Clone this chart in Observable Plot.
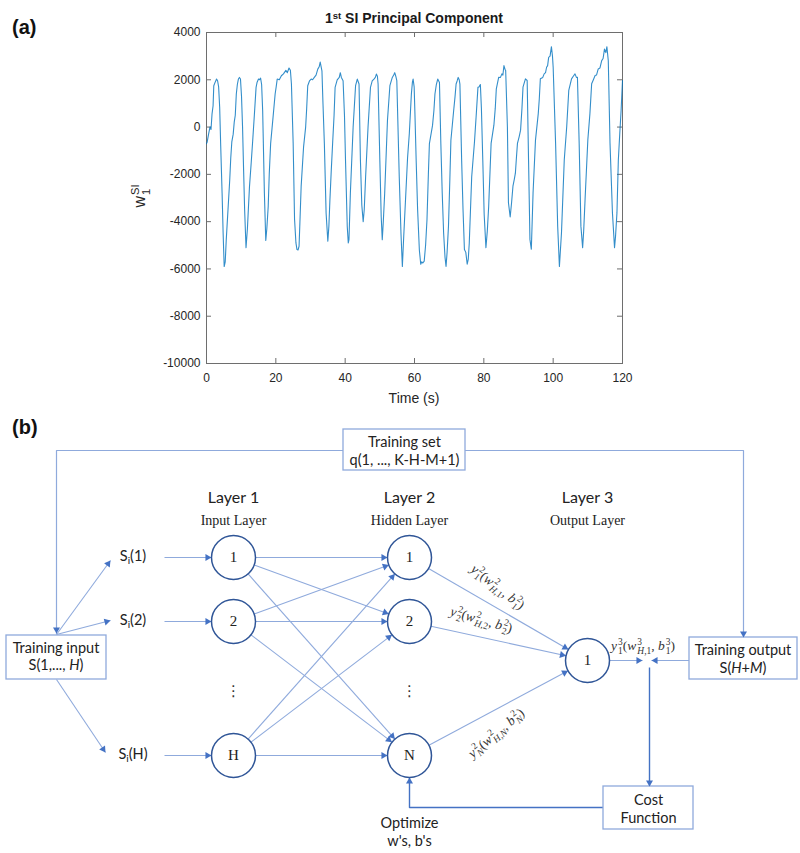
<!DOCTYPE html>
<html><head><meta charset="utf-8">
<script src="https://cdn.jsdelivr.net/npm/d3@7"></script>
<script src="https://cdn.jsdelivr.net/npm/@observablehq/plot@0.6"></script>
<style>
html,body{margin:0;padding:0;background:#fff;}
#fig{position:relative;width:800px;height:853px;overflow:hidden;background:#fff;}
#fig svg{position:absolute;left:0;}
.lbl{position:absolute;white-space:nowrap;line-height:1;color:#222;}
.ss{display:inline-flex;flex-direction:column;vertical-align:middle;font-size:0.7em;line-height:1.0;text-align:left;margin-left:1px;}
.math{font-family:"Liberation Serif","DejaVu Serif",serif;font-size:13.5px;color:#333;}
.sans{font-family:Lato,"Open Sans",sans-serif;font-size:14.5px;color:#222;}
.sub{font-size:0.7em;vertical-align:-0.3em;}
</style></head>
<body><div id="fig"></div>
<script>
// ---------------- DATA ----------------
// (a) 1st SI principal component
const time = [
  0,0.2,0.6,1.0,1.3,1.6,1.9,2.1,2.5,2.9,3.2,3.5,3.8,
  4.1,4.5,4.8,5.1,5.4,5.7,6.2,6.7,7.0,7.3,7.7,8.0,8.3,8.6,8.9,9.2,9.5,9.8,10.1,
  10.4,10.7,11.0,11.4,11.8,12.1,12.4,12.9,13.3,13.8,14.3,14.6,15.0,15.3,15.6,15.9,
  16.2,16.7,17.1,17.4,17.8,18.1,18.5,19.2,19.8,20.1,20.4,21.0,21.6,22.2,22.9,23.3,23.8,24.2,24.5,
  25.0,25.4,25.8,26.1,26.4,26.7,27.0,27.3,28.0,28.6,28.9,29.2,29.7,30.2,30.6,31.1,31.6,32.1,32.5,32.8,33.0,33.3,33.6,
  34.0,34.5,35.0,35.3,35.6,36.0,36.4,36.8,37.1,37.7,38.3,38.6,38.9,39.4,39.8,
  40.1,40.6,40.9,41.1,41.5,42.3,43.0,43.5,44.0,
  44.4,44.8,45.2,45.5,45.9,46.6,47.3,47.8,48.3,48.7,49.0,49.3,49.5,
  50.0,50.4,50.7,51.0,51.4,52.2,52.9,53.3,53.6,54.0,54.3,54.6,54.9,
  55.6,56.1,56.5,56.9,57.5,58.0,58.5,59.1,59.4,59.6,59.9,60.1,
  60.5,60.9,61.4,61.8,62.1,62.4,62.8,63.2,63.6,64.0,64.3,65.2,65.6,65.9,66.3,66.7,67.2,
  67.6,68.0,68.4,68.8,69.1,69.4,69.8,70.2,70.5,71.3,71.7,72.0,72.3,72.6,72.9,73.1,
  73.6,74.0,74.4,74.8,75.2,75.5,75.8,76.5,77.3,77.8,78.3,78.6,79.0,79.3,
  79.7,80.1,80.6,81.0,81.4,82.1,82.9,83.3,83.6,84.0,84.3,84.8,85.2,85.5,85.8,86.1,86.3,
  86.8,87.1,87.6,88.0,88.4,88.8,89.1,89.4,89.7,90.2,90.6,91.0,91.3,92.0,92.5,
  92.9,93.3,93.7,94.2,94.9,95.7,96.0,96.3,97.0,97.4,97.8,98.1,98.4,98.7,99.1,99.5,99.8,100.0,
  100.7,101.3,101.8,102.4,103.2,103.9,104.5,105.3,105.8,106.3,106.7,107.0,
  107.5,108.0,108.5,108.8,109.2,110.0,110.6,111.1,111.6,112.1,112.5,113.0,113.5,114.0,114.4,114.8,115.2,115.5,115.9,
  116.4,117.1,117.7,118.0,118.4,118.8,119.2,119.6,120.0
];
const w1 = [
  -700,-630,-300,0,-100,560,900,1750,1900,2030,1960,1700,840,
  -800,-2800,-4500,-5900,-5700,-4760,-3500,-2240,-1300,-630,-300,210,500,1400,1800,2030,2100,2030,1300,
  0,-1800,-3500,-5100,-4300,-3400,-2520,-1500,-630,500,1680,1900,2030,2000,2070,1800,
  700,-2800,-4800,-4300,-3360,-2000,-700,420,1400,1700,2030,2000,2170,2250,2400,2300,2500,2400,1820,
  -700,-3900,-4900,-5180,-5200,-5040,-3800,-2520,-840,0,800,1750,1950,2030,2000,2100,2200,2450,2550,2750,2600,2380,1000,
  -700,-3640,-4830,-4200,-3080,-1800,-630,500,1680,2000,2100,2300,2100,1960,500,
  -1400,-4200,-4900,-4760,-2800,0,1750,2030,1820,
  -1400,-3300,-4000,-3500,-2100,0,1680,1950,2030,2100,2240,2150,1820,
  -1400,-3800,-4760,-4000,-2800,280,1750,1950,2100,2200,2300,2150,1960,
  -2100,-4500,-5900,-4600,-2800,-1300,-280,1400,1900,2030,1700,700,
  -1500,-3500,-5200,-5800,-5700,-5750,-5670,-5000,-3920,-2000,-700,70,700,1400,1800,2030,1890,
  -700,-2800,-4480,-5500,-5900,-5300,-4200,-2200,-560,700,1300,1820,1950,2100,2000,1820,
  -1400,-3500,-5180,-5300,-5800,-5600,-4900,-2100,-630,500,1680,1700,1800,800,
  -1400,-3700,-5100,-4400,-3350,-690,80,800,1620,1900,2110,2100,2250,2200,2600,2450,2390,
  0,-3200,-3800,-3200,-2500,-2200,-1950,-1300,-690,-400,-130,800,1690,2040,1970,
  -1390,-4750,-5170,-2790,-550,570,1200,2040,2100,2250,2300,2530,2600,2950,3000,3400,3000,2530,
  -690,-4190,-5900,-4470,-1390,0,1550,2040,2150,2250,2100,2110,
  -690,-4190,-5100,-4400,-3070,-550,570,1830,2000,2180,2200,2460,2500,2810,2900,3300,3150,3400,2810,
  -690,-3630,-5100,-4600,-3630,-1390,-300,710,1970
];
const xTicks = [0, 20, 40, 60, 80, 100, 120];
const yTicks = [-10000, -8000, -6000, -4000, -2000, 0, 2000, 4000];

// (b) network diagram content
const inputNodes = ["1", "2", "H"];
const hiddenNodes = ["1", "2", "N"];
const outputNodes = ["1"];
const inputSignals = ["1", "2", "H"];            // S_i(...)
const layerNames = ["Layer 1", "Layer 2", "Layer 3"];
const layerRoles = ["Input Layer", "Hidden Layer", "Output Layer"];
const hiddenIdx = ["1", "2", "N"];                // y_k^2(w_{H,k}^2, b_k^2)
const boxTexts = {
  set: "Training set\nq(1, ..., K-H-M+1)",
  cost: "Cost\nFunction",
  opt: "Optimize\nw's, b's"
};

if (time.length !== w1.length) throw new Error("length mismatch " + time.length + " " + w1.length);

// ---------------- LAYOUT ----------------
const fig = document.getElementById("fig");
const B_TOP = 410;
const LY = {
  col: {tin: 56, sig: 133, l1: 233, l2: 409, l3: 587, tout: 743},
  rows: [557, 621, 755], dotsY: 691, outY: 660, r: 22,
  headY: 497, roleY: 520,
  boxSet: {x1: 343, x2: 465, y1: 429, y2: 470},
  boxIn: {x1: 6, x2: 106, y1: 635, y2: 679},
  boxOut: {x1: 689, x2: 797, y1: 637, y2: 679},
  boxCost: {x1: 603, x2: 693, y1: 786, y2: 829},
  topLineY: 450, fanY: 633, junctionX: 649, costLineY: 807
};
const LIGHT = "#8FAADC", DARK = "#4472C4", NODE = "#2F5597";

// ---------------- (a) line chart ----------------
const series = time.map((t, i) => ({t, v: w1[i]}));
const axisColor = "#6e6e6e";
const plotA = Plot.plot({
  width: 800, height: 410,
  marginLeft: 206, marginRight: 178, marginTop: 32, marginBottom: 47,
  x: {domain: [0, 120]},
  y: {domain: [-10000, 4000]},
  style: {fontFamily: "'Liberation Sans', Arial, sans-serif", fontSize: "12px", color: "#262626", background: "transparent"},
  marks: [
    Plot.tickX(xTicks, {x: d => d, insetTop: 326, stroke: axisColor}),
    Plot.tickX(xTicks, {x: d => d, insetBottom: 326, stroke: axisColor}),
    Plot.tickY(yTicks, {y: d => d, insetRight: 411, stroke: axisColor}),
    Plot.tickY(yTicks, {y: d => d, insetLeft: 411, stroke: axisColor}),
    Plot.frame({stroke: axisColor}),
    Plot.axisX({ticks: xTicks, tickSize: 0, tickPadding: 10, tickFormat: d => String(d), label: null}),
    Plot.axisY({ticks: yTicks, tickSize: 0, tickPadding: 6, tickFormat: d => String(d), label: null}),
    Plot.line(series, {x: "t", y: "v", stroke: "#0072BD", strokeWidth: 1.1, strokeOpacity: 0.8})
  ]
});
plotA.style.top = "0px";
fig.appendChild(plotA);

// ---------------- (b) diagram ----------------
function seg(x1, y1, x2, y2, t1 = 0, t2 = 0) {
  const dx = x2 - x1, dy = y2 - y1, len = Math.hypot(dx, dy);
  const ux = dx / len, uy = dy / len;
  return {x1: x1 + ux * t1, y1: y1 + uy * t1, x2: x2 - ux * t2, y2: y2 - uy * t2, ux, uy,
          ang: Math.atan2(uy, ux) * 180 / Math.PI};
}
const nodes = [
  ...inputNodes.map((n, i) => ({label: n, x: LY.col.l1, y: LY.rows[i], layer: 0})),
  ...hiddenNodes.map((n, i) => ({label: n, x: LY.col.l2, y: LY.rows[i], layer: 1})),
  ...outputNodes.map((n) => ({label: n, x: LY.col.l3, y: LY.outY, layer: 2}))
];
const L1n = nodes.filter(d => d.layer === 0), L2n = nodes.filter(d => d.layer === 1), L3n = nodes.filter(d => d.layer === 2);

const lightArrows = [];
lightArrows.push(seg(LY.col.tin, LY.fanY + 1, 110, LY.rows[0] + 3));
lightArrows.push(seg(LY.col.tin, LY.fanY + 1, 110, LY.rows[1] - 1));
lightArrows.push(seg(LY.col.tin, LY.boxIn.y2, 105, LY.rows[2] - 3));
inputSignals.forEach((s, i) => lightArrows.push(seg(164, LY.rows[i], LY.col.l1 - LY.r, LY.rows[i])));
L1n.forEach(a => L2n.forEach(b => lightArrows.push(seg(a.x, a.y, b.x, b.y, LY.r, LY.r))));
L2n.forEach(a => L3n.forEach(b => lightArrows.push(seg(a.x, a.y, b.x, b.y, LY.r, LY.r))));
lightArrows.push(seg(LY.col.l3 + LY.r, LY.outY, LY.junctionX - 7, LY.outY));
lightArrows.push(seg(LY.boxOut.x1, LY.outY, LY.junctionX + 2, LY.outY));

const darkArrows = [seg(LY.junctionX, LY.outY + 7, LY.junctionX, LY.boxCost.y1)];

const polyLight = [
  {id: "a", x: LY.boxSet.x1, y: LY.topLineY}, {id: "a", x: LY.col.tin, y: LY.topLineY}, {id: "a", x: LY.col.tin, y: LY.fanY},
  {id: "b", x: LY.boxSet.x2, y: LY.topLineY}, {id: "b", x: LY.col.tout, y: LY.topLineY}, {id: "b", x: LY.col.tout, y: LY.boxOut.y1}
];
const polyDark = [
  {id: "c", x: LY.boxCost.x1, y: LY.costLineY}, {id: "c", x: LY.col.l2, y: LY.costLineY}, {id: "c", x: LY.col.l2, y: LY.rows[2] + LY.r}
];
const polyHeads = [
  {x: LY.col.tin, y: LY.fanY, ux: 0, uy: 1, ang: 90},
  {x: LY.col.tout, y: LY.boxOut.y1, ux: 0, uy: 1, ang: 90},
  {x: LY.col.l2, y: LY.rows[2] + LY.r, ux: 0, uy: -1, ang: -90}
];
const HEAD_R = 2.6, TIP = 2 * Math.sqrt(HEAD_R * HEAD_R * Math.PI / (3 * Math.sqrt(3)));
const heads = [
  ...lightArrows.map(s => ({x: s.x2 - s.ux * TIP, y: s.y2 - s.uy * TIP, rot: s.ang + 90})),
  ...darkArrows.map(s => ({x: s.x2 - s.ux * TIP, y: s.y2 - s.uy * TIP, rot: s.ang + 90})),
  ...polyHeads.map(s => ({x: s.x - s.ux * TIP, y: s.y - s.uy * TIP, rot: s.ang + 90}))
];
const boxes = [LY.boxSet, LY.boxIn, LY.boxOut, LY.boxCost];
const heads2 = layerNames.map((n, i) => ({text: n, x: [LY.col.l1, LY.col.l2, LY.col.l3][i], y: LY.headY}));
const roles = layerRoles.map((n, i) => ({text: n, x: [LY.col.l1, LY.col.l2, LY.col.l3][i], y: LY.roleY}));
const plainTexts = [
  {text: boxTexts.set, x: (LY.boxSet.x1 + LY.boxSet.x2) / 2, y: 450},
  {text: boxTexts.cost, x: (LY.boxCost.x1 + LY.boxCost.x2) / 2, y: 808},
  {text: boxTexts.opt, x: LY.col.l2, y: 831}
];
const vdots = [{x: LY.col.l1, y: LY.dotsY}, {x: LY.col.l2, y: LY.dotsY}];

const plotB = Plot.plot({
  width: 800, height: 443, margin: 0,
  x: {domain: [0, 800], range: [0, 800], axis: null},
  y: {domain: [B_TOP, 853], range: [0, 443], axis: null},
  style: {background: "transparent"},
  marks: [
    Plot.line(polyLight, {x: "x", y: "y", z: "id", stroke: LIGHT, strokeWidth: 1.2}),
    Plot.line(polyDark, {x: "x", y: "y", z: "id", stroke: DARK, strokeWidth: 1.4}),
    Plot.link(lightArrows, {x1: "x1", y1: "y1", x2: "x2", y2: "y2", stroke: LIGHT, strokeWidth: 1.1}),
    Plot.link(darkArrows, {x1: "x1", y1: "y1", x2: "x2", y2: "y2", stroke: DARK, strokeWidth: 1.4}),
    Plot.rect(boxes, {x1: "x1", x2: "x2", y1: "y1", y2: "y2", fill: "white", stroke: LIGHT, strokeWidth: 1.3}),
    Plot.dot(heads, {x: "x", y: "y", symbol: "triangle", r: HEAD_R, fill: DARK, rotate: "rot"}),
    Plot.dot(nodes, {x: "x", y: "y", r: LY.r, fill: "white", stroke: NODE, strokeWidth: 1.5}),
    Plot.text(nodes, {x: "x", y: "y", text: "label", fontFamily: "'Liberation Serif', serif", fontSize: 15, fill: "#222"}),
    Plot.text(heads2, {x: "x", y: "y", text: "text", fontFamily: "Lato, sans-serif", fontSize: 16, fill: "#222"}),
    Plot.text(roles, {x: "x", y: "y", text: "text", fontFamily: "'Liberation Serif', serif", fontSize: 14, fill: "#222"}),
    Plot.text(plainTexts, {x: "x", y: "y", text: "text", fontFamily: "Lato, sans-serif", fontSize: 14.5, lineHeight: 1.22, fill: "#222"}),
    Plot.text(vdots, {x: "x", y: "y", text: () => "\u22EE", fontFamily: "'DejaVu Sans', sans-serif", fontSize: 15, fill: "#333"})
  ]
});
plotB.style.top = B_TOP + "px";
fig.appendChild(plotB);

// ---------------- rich text labels ----------------
function addLabel(html, x, y, cls, opt = {}) {
  const d = document.createElement("div");
  d.className = "lbl " + (cls || "");
  d.innerHTML = html;
  d.style.left = x + "px";
  d.style.top = y + "px";
  const ax = opt.anchor === "start" ? "0" : "-50%";
  d.style.transform = `translate(${ax},-50%) rotate(${opt.rotate || 0}deg)`;
  if (opt.style) Object.assign(d.style, opt.style);
  fig.appendChild(d);
}
const ss = (base, sup, sub, italic = true) =>
  `${italic ? "<i>" + base + "</i>" : base}<span class="ss"><span>${sup}</span><span>${sub}</span></span>`;

addLabel("(a)", 12, 27, "", {anchor: "start", style: {font: "bold 20px 'Liberation Sans', Arial, sans-serif", color: "#111"}});
addLabel("1<sup style='font-size:0.68em;vertical-align:0.45em;line-height:0'>st</sup> SI Principal Component", 414, 18, "",
  {style: {font: "bold 14px 'Liberation Sans', Arial, sans-serif", color: "#1a1a1a"}});
addLabel("Time (s)", 414, 398, "", {style: {font: "14px 'Liberation Sans', Arial, sans-serif", color: "#262626"}});
addLabel(ss("w", "SI", "1", false), 141, 196, "", {rotate: -90, style: {font: "16px 'Liberation Sans', Arial, sans-serif", color: "#262626"}});

const sx = plotB.scale("x"), sy = plotB.scale("y");
const P = (x, y) => [sx.apply(x), B_TOP + sy.apply(y)];
addLabel("(b)", 12, 427, "", {anchor: "start", style: {font: "bold 20px 'Liberation Sans', Arial, sans-serif", color: "#111"}});
inputSignals.forEach((s, i) => {
  const [x, y] = P(LY.col.sig, LY.rows[i]);
  addLabel(`S<span class="sub">i</span>(${s})`, x, y, "sans");
});
{
  const [x1, y1] = P(LY.col.tin, 648); addLabel("Training input", x1, y1, "sans");
  const [x2, y2] = P(LY.col.tin, 665); addLabel("S(1,..., <i>H</i>)", x2, y2, "sans");
  const [x3, y3] = P(LY.col.tout, 650); addLabel("Training output", x3, y3, "sans");
  const [x4, y4] = P(LY.col.tout, 668); addLabel("S(<i>H</i>+<i>M</i>)", x4, y4, "sans");
}
const wPos = [{x: 497, y: 588, rot: 38}, {x: 481, y: 621, rot: 16}, {x: 497, y: 734, rot: -40}];
hiddenIdx.forEach((k, i) => {
  const kk = k === "N" ? "<i>N</i>" : k;
  const html = `${ss("y", "2", kk)}(${ss("w", "2", "<i>H</i>," + kk)}, ${ss("b", "2", kk)})`;
  const [x, y] = P(wPos[i].x, wPos[i].y);
  addLabel(html, x, y, "math", {rotate: wPos[i].rot});
});
{
  const html = `${ss("y", "3", "1")}(${ss("w", "3", "<i>H</i>,1")}, ${ss("b", "3", "1")})`;
  const [x, y] = P(643, 647);
  addLabel(html, x, y, "math");
}
</script></body></html>
